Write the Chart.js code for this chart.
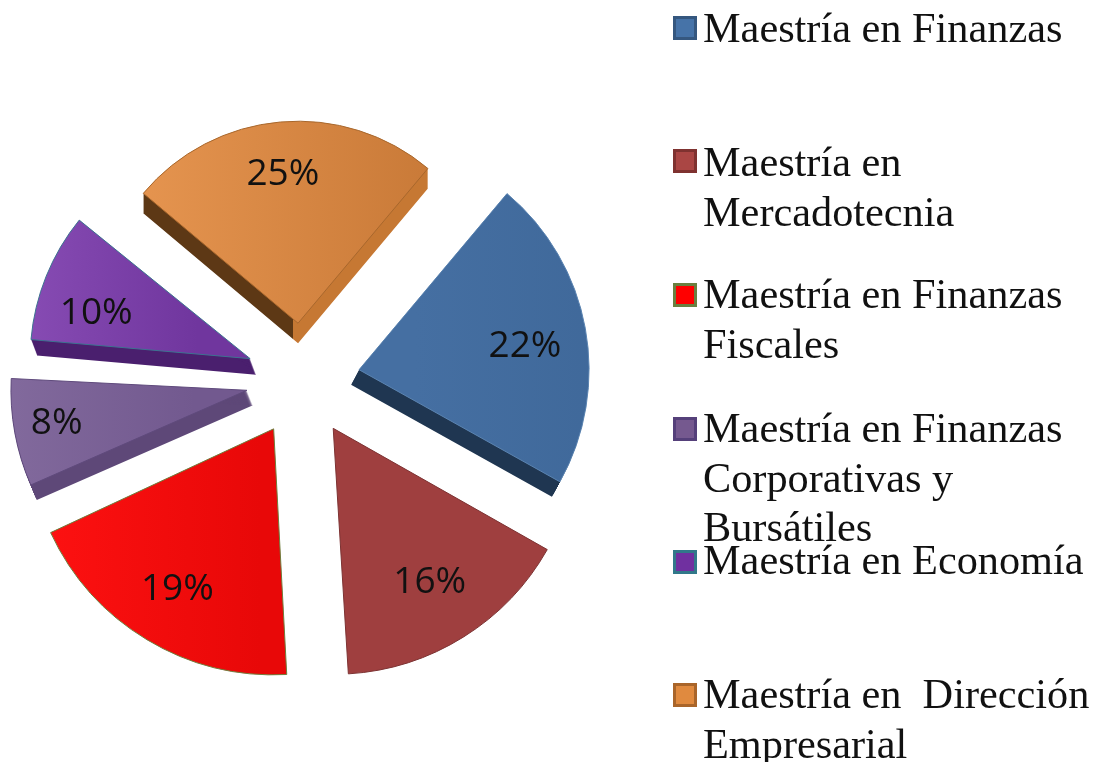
<!DOCTYPE html>
<html lang="es">
<head>
<meta charset="utf-8">
<title>Maestrías</title>
<script src="https://cdn.jsdelivr.net/npm/chart.js@4"></script>
<style>
    html, body { margin: 0; padding: 0; background: #fff; }
    canvas { display: block; }
</style>
</head>
<body>
<canvas id="pieChart" width="1093" height="762"></canvas>
<script>
// Chart data
const categories = [
    'Maestría en Finanzas',
    'Maestría en Mercadotecnia',
    'Maestría en Finanzas Fiscales',
    'Maestría en Finanzas Corporativas y Bursátiles',
    'Maestría en Economía',
    'Maestría en  Dirección Empresarial'
];
const percentages = [22, 16, 19, 8, 10, 25];
const legendLines = [
    ['Maestría en Finanzas'],
    ['Maestría en', 'Mercadotecnia'],
    ['Maestría en Finanzas', 'Fiscales'],
    ['Maestría en Finanzas', 'Corporativas y', 'Bursátiles'],
    ['Maestría en Economía'],
    ['Maestría en  Dirección', 'Empresarial']
];

// Look of each slice, same order as the categories
const explode = 57;
const sliceRadius = [230, 246, 246, 236, 220, 202];
const labelFraction = [0.72, 0.74, 0.76, 0.82, 0.73, 0.75];
const labelNudge = [[3, 7], [0, 0], [0, 0], [0, -2], [-5, 15], [-2, 2]];
const depthShift = [[-8, 15], null, null, [6, 15], [6, 16], [0, 20]];
const sliceBorders = ['#5b84b1', '#7c3232', '#6f7d3c', '#5f4a7c', '#3c7390', '#a8672c'];
const swatchFills = ['#4673a8', '#aa4644', '#ff0000', '#75598f', '#7030a0', '#e08a3f'];
const swatchBorders = ['#35577f', '#7f3230', '#6a8040', '#55407a', '#31788a', '#a9652a'];
const legendSwatchTops = [16, 149, 283, 417, 550, 683];
const legendBaselines = [42, 176, 308, 442, 574, 708];

const ctx = document.getElementById('pieChart').getContext('2d');

const sideGradient = (from, to, colors) => {
    const g = ctx.createLinearGradient(from, 0, to, 0);
    colors.forEach(([stop, color]) => g.addColorStop(stop, color));
    return g;
};

const sliceFills = [
    sideGradient(360, 590, [[0, '#456fa2'], [1, '#3e6798']]),
    '#9f3f3f',
    sideGradient(50, 290, [[0, '#ff1212'], [1, '#e80808']]),
    sideGradient(15, 250, [[0, '#866ea0'], [1, '#72598f']]),
    sideGradient(25, 250, [[0, '#8e52ba'], [1, '#70369e']]),
    sideGradient(135, 437, [[0, '#e69550'], [1, '#c97a38']])
];
const sideFills = [
    '#1f3651',
    null,
    null,
    '#5e4878',
    '#4a1f6e',
    // dark on the left face, light on the right one, split at the tip
    sideGradient(135, 437, [[0, '#5d3815'], [0.54, '#5d3815'], [0.54, '#c67833'], [1, '#c67833']])
];

// Chart.js moves an arc by offset / 4 and also grows the narrow ones a bit
const arcShift = explode;
const radiusGrowth = percentages.map(p => {
    const sweep = p / percentages.reduce((a, b) => a + b, 0) * 2 * Math.PI;
    return arcShift * (1 - Math.sin(Math.min(Math.PI, sweep)));
});

// Per slice radius and the side walls of the 3D look
const depthPlugin = {
    id: 'depth',
    afterDatasetsUpdate(chart) {
        chart.getDatasetMeta(0).data.forEach((arc, i) => {
            arc.outerRadius = sliceRadius[i] - radiusGrowth[i];
        });
    },
    beforeDatasetsDraw(chart) {
        const c = chart.ctx;
        chart.getDatasetMeta(0).data.forEach((arc, i) => {
            if (!depthShift[i]) return;
            const [dx, dy] = depthShift[i];
            const wall = Object.create(arc);
            wall.options = { ...arc.options, backgroundColor: sideFills[i], borderWidth: 0 };
            for (let t = 1; t <= dy; t++) {
                c.save();
                c.translate(dx * t / dy, t);
                wall.draw(c);
                c.restore();
            }
        });
    }
};

// Percentages on the slices and the legend on the right
const textPlugin = {
    id: 'texts',
    afterDraw(chart) {
        const c = chart.ctx;
        c.save();
        c.fillStyle = '#111';
        c.textAlign = 'center';
        c.textBaseline = 'middle';
        c.font = '37px "Open Sans"';
        chart.getDatasetMeta(0).data.forEach((arc, i) => {
            const mid = (arc.startAngle + arc.endAngle) / 2;
            const dist = explode + sliceRadius[i] * labelFraction[i];
            const x = arc.x + Math.cos(mid) * dist + labelNudge[i][0];
            const y = arc.y + Math.sin(mid) * dist + labelNudge[i][1];
            c.fillText(percentages[i] + '%', x, y);
        });

        c.textAlign = 'left';
        c.textBaseline = 'alphabetic';
        c.font = '42.3px "Liberation Serif"';
        legendLines.forEach((lines, i) => {
            c.fillStyle = swatchBorders[i];
            c.fillRect(673, legendSwatchTops[i], 24, 24);
            c.fillStyle = swatchFills[i];
            c.fillRect(676, legendSwatchTops[i] + 3, 18, 18);
            c.fillStyle = '#111';
            lines.forEach((line, k) => {
                c.fillText(line, 703, legendBaselines[i] + k * 49.5);
            });
        });
        c.restore();
    }
};

new Chart(ctx, {
    type: 'pie',
    data: {
        labels: categories,
        datasets: [{
            data: percentages,
            backgroundColor: sliceFills,
            borderColor: sliceBorders,
            borderWidth: 1,
            offset: arcShift * 4
        }]
    },
    options: {
        responsive: false,
        animation: false,
        events: [],
        rotation: 40,
        layout: { padding: { right: 487, bottom: 2 } },
        plugins: {
            legend: { display: false },
            tooltip: { enabled: false }
        }
    },
    plugins: [depthPlugin, textPlugin]
});
</script>
</body>
</html>
